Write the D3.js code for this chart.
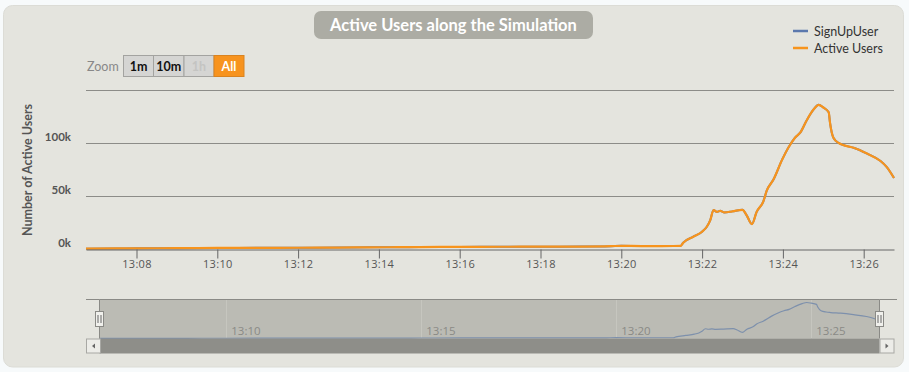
<!DOCTYPE html>
<html><head><meta charset="utf-8">
<script src="https://cdn.jsdelivr.net/npm/d3@7"></script>
<style>
html,body{margin:0;padding:0;background:#f7fafb;}
svg{display:block;}
</style></head>
<body>
<svg id="chart" width="909" height="372"></svg>
<script>
// ---- data ----
const times = ["13:06:45","13:07:30","13:08:00","13:09:00","13:10:00","13:11:00","13:12:00","13:13:00","13:13:45","13:14:30","13:15:00","13:16:00","13:17:00","13:18:00","13:19:00","13:19:45","13:20:00","13:20:30","13:21:00","13:21:28","13:21:32","13:21:47","13:22:00","13:22:07","13:22:12","13:22:17","13:22:22","13:22:27","13:22:33","13:22:45","13:23:00","13:23:06","13:23:14","13:23:21","13:23:31","13:23:36","13:23:46","13:23:59","13:24:08","13:24:18","13:24:26","13:24:35","13:24:46","13:24:53","13:25:00","13:25:08","13:25:10","13:25:15","13:25:23","13:25:30","13:25:45","13:26:05","13:26:25","13:26:34","13:26:45"];
const activeUsers = [300,500,600,800,1000,1100,1200,1300,1600,1700,1800,2000,2100,2200,2300,2700,3000,2800,2800,2900,6000,11600,16300,21000,27000,36800,35000,36000,34500,35500,37000,32000,23500,35000,45000,55000,65500,84500,95500,105000,110000,121000,132000,136000,133500,129000,119000,105000,100000,98000,95500,90000,83000,77500,67000];
const signUpUser = [300,500,600,800,1000,1100,1200,1300,1600,1700,1800,2000,2100,2200,2300,2700,3000,2800,2800,2900,6000,11600,16300,21000,27000,36800,35000,36000,34500,35500,37000,32000,23500,35000,45000,55000,65500,84500,95500,105000,110000,121000,132000,136000,133500,129000,119000,105000,100000,98000,95500,90000,83000,77500,67000];
const xTickLabels = ["13:08","13:10","13:12","13:14","13:16","13:18","13:20","13:22","13:24","13:26"];
const yTicks = [0,50000,100000,150000];
const yTickLabels = ["0k","50k","100k",""];
const navTickLabels = ["13:10","13:15","13:20","13:25"];
const zoomButtons = ["1m","10m","1h","All"];
const seriesNames = ["SignUpUser","Active Users"];
const titleText = "Active Users along the Simulation";
const yTitle = "Number of Active Users";

// ---- setup ----
const parse = d3.timeParse("%H:%M:%S");
const parseHM = d3.timeParse("%H:%M");
const T = times.map(parse);
const domainX = [parse("13:06:45"), parse("13:26:45")];
const colors = ["#5b78ad", "#f7941d"];
const svg = d3.select("#chart");
const F = "Lato, 'Open Sans', sans-serif";

// container
svg.append("rect").attr("x",3.5).attr("y",5.5).attr("width",900).attr("height",361.5)
  .attr("rx",9).attr("fill","#e4e4de").attr("stroke","#dcdcd6");

// title
svg.append("rect").attr("x",314).attr("y",11).attr("width",279).attr("height",28).attr("rx",7).attr("fill","#acaca4");
svg.append("text").attr("x",453.5).attr("y",31).attr("text-anchor","middle")
  .attr("font-family",F).attr("font-weight","bold").attr("font-size",16.5).attr("fill","#fff").text(titleText);

// legend
seriesNames.forEach((n,i)=>{
  const y = 31 + i*17;
  svg.append("line").attr("x1",793).attr("x2",808).attr("y1",y).attr("y2",y).attr("stroke",colors[i]).attr("stroke-width",2.5);
  svg.append("text").attr("x",814).attr("y",y+4.5).attr("font-family",F).attr("font-size",12.5).attr("fill","#333").text(n);
});

// zoom buttons
svg.append("text").attr("x",87).attr("y",71).attr("font-family",F).attr("font-size",12.5).attr("fill","#888").text("Zoom");
const bx = [123.5,153.5,184,214], bw = [30,30.5,30,30];
zoomButtons.forEach((b,i)=>{
  const all = b==="All", dis = b==="1h";
  svg.append("rect").attr("x",bx[i]).attr("y",55.5).attr("width",bw[i]).attr("height",21)
    .attr("fill", all?"#f7931e":"#d5d5d3").attr("stroke", all?"#d98320":"#a3a3a0").attr("stroke-width",1);
  svg.append("text").attr("x",bx[i]+bw[i]/2).attr("y",71).attr("text-anchor","middle")
    .attr("font-family",F).attr("font-weight","bold").attr("font-size",12.5)
    .attr("fill", all?"#fff":(dis?"#c4c4c2":"#111")).text(b);
});

// main plot
const L=86, R=894, TOP=90, BOT=249;
const x = d3.scaleTime().domain(domainX).range([L,R]);
const y = d3.scaleLinear().domain([0,150000]).range([BOT,TOP]);

// grid
svg.append("g").selectAll("line").data(yTicks.slice(1)).join("line")
  .attr("x1",L).attr("x2",R).attr("y1",d=>Math.round(y(d))+0.5).attr("y2",d=>Math.round(y(d))+0.5)
  .attr("stroke","#8c8c88").attr("stroke-width",1);
svg.append("g").selectAll("text").data(yTicks).join("text")
  .attr("x",71).attr("y",d=>y(d)-2).attr("text-anchor","end")
  .attr("font-family",F).attr("font-weight","bold").attr("font-size",11.5).attr("fill","#555")
  .text((d,i)=>yTickLabels[i]);
svg.append("text").attr("transform","translate(32,170) rotate(-90)").attr("text-anchor","middle")
  .attr("font-family",F).attr("font-weight","bold").attr("font-size",12.5).attr("fill","#555").text(yTitle);

// lines
const line = d3.line().x((d,i)=>x(T[i])).y(d=>y(d)).curve(d3.curveMonotoneX);
svg.append("path").datum(signUpUser).attr("d",line).attr("fill","none").attr("stroke",colors[0]).attr("stroke-width",2);
svg.append("path").datum(activeUsers).attr("d",line).attr("fill","none").attr("stroke",colors[1]).attr("stroke-width",2.2).attr("stroke-linejoin","round");

// x axis
const xAxis = d3.axisBottom(x).tickValues(xTickLabels.map(parseHM)).tickFormat(d3.timeFormat("%H:%M")).tickSize(9).tickPadding(2).tickSizeOuter(0);
const gx = svg.append("g").attr("transform",`translate(0,${BOT+0.5})`).call(xAxis);
gx.select(".domain").attr("stroke","#666");
gx.selectAll(".tick line").attr("stroke","#666");
gx.selectAll("text").attr("font-family","'Open Sans', sans-serif").attr("font-size",11).attr("fill","#555").attr("letter-spacing",0.3);

// navigator
const NL=99.5, NR=879.5, NT=299.5, NB=338.5;
const nx = d3.scaleTime().domain(domainX).range([NL,NR]);
const ny = d3.scaleLinear().domain([0,136000]).range([NB,302.5]);
svg.append("rect").attr("x",NL).attr("y",NT).attr("width",NR-NL).attr("height",NB-NT).attr("fill","#bbbbb4");
svg.append("g").selectAll("line").data(navTickLabels).join("line")
  .attr("x1",d=>Math.round(nx(parseHM(d)))+0.5).attr("x2",d=>Math.round(nx(parseHM(d)))+0.5)
  .attr("y1",NT).attr("y2",NB).attr("stroke","#c6c6bf");
svg.append("g").selectAll("text").data(navTickLabels).join("text")
  .attr("x",d=>nx(parseHM(d))+5).attr("y",335).attr("font-family","'Open Sans', sans-serif").attr("font-size",11.5)
  .attr("fill","#8a8a86").text(d=>d);
const nline = d3.line().x((d,i)=>nx(T[i])).y(d=>ny(d)).curve(d3.curveMonotoneX);
svg.append("path").datum(signUpUser).attr("d",nline).attr("fill","none").attr("stroke","#7d90ac").attr("stroke-width",1.2);
// outline
svg.append("path").attr("d",`M86,${NT}H${NL}V${NB}M${NR},${NB}V${NT}H897`).attr("fill","none").attr("stroke","#8a8a86");
svg.append("line").attr("x1",NL).attr("x2",NR).attr("y1",NT).attr("y2",NT).attr("stroke","#8a8a86");
// scrollbar
svg.append("rect").attr("x",NL).attr("y",NB).attr("width",NR-NL).attr("height",15).attr("fill","#8e8e89");
[[86,"l"],[879.5,"r"]].forEach(([bxx,dir])=>{
  svg.append("rect").attr("x",bxx+0.5).attr("y",NB+0.5).attr("width",14).attr("height",14).attr("fill","#ecece8").attr("stroke","#a8a8a4");
  const cx = bxx+7.5, cy = NB+7.5;
  svg.append("path").attr("d", dir==="l" ? `M${cx+1.5},${cy-2.5}L${cx-1.5},${cy}L${cx+1.5},${cy+2.5}Z` : `M${cx-1.5},${cy-2.5}L${cx+1.5},${cy}L${cx-1.5},${cy+2.5}Z`).attr("fill","#666");
});
// handles
[NL,NR].forEach(hx=>{
  svg.append("rect").attr("x",hx-4).attr("y",311.5).attr("width",8).attr("height",15).attr("fill","#f0f0ec").attr("stroke","#8a8a86");
  svg.append("line").attr("x1",hx-1.5).attr("x2",hx-1.5).attr("y1",315).attr("y2",323).attr("stroke","#666");
  svg.append("line").attr("x1",hx+1.5).attr("x2",hx+1.5).attr("y1",315).attr("y2",323).attr("stroke","#666");
});
</script>
</body></html>
